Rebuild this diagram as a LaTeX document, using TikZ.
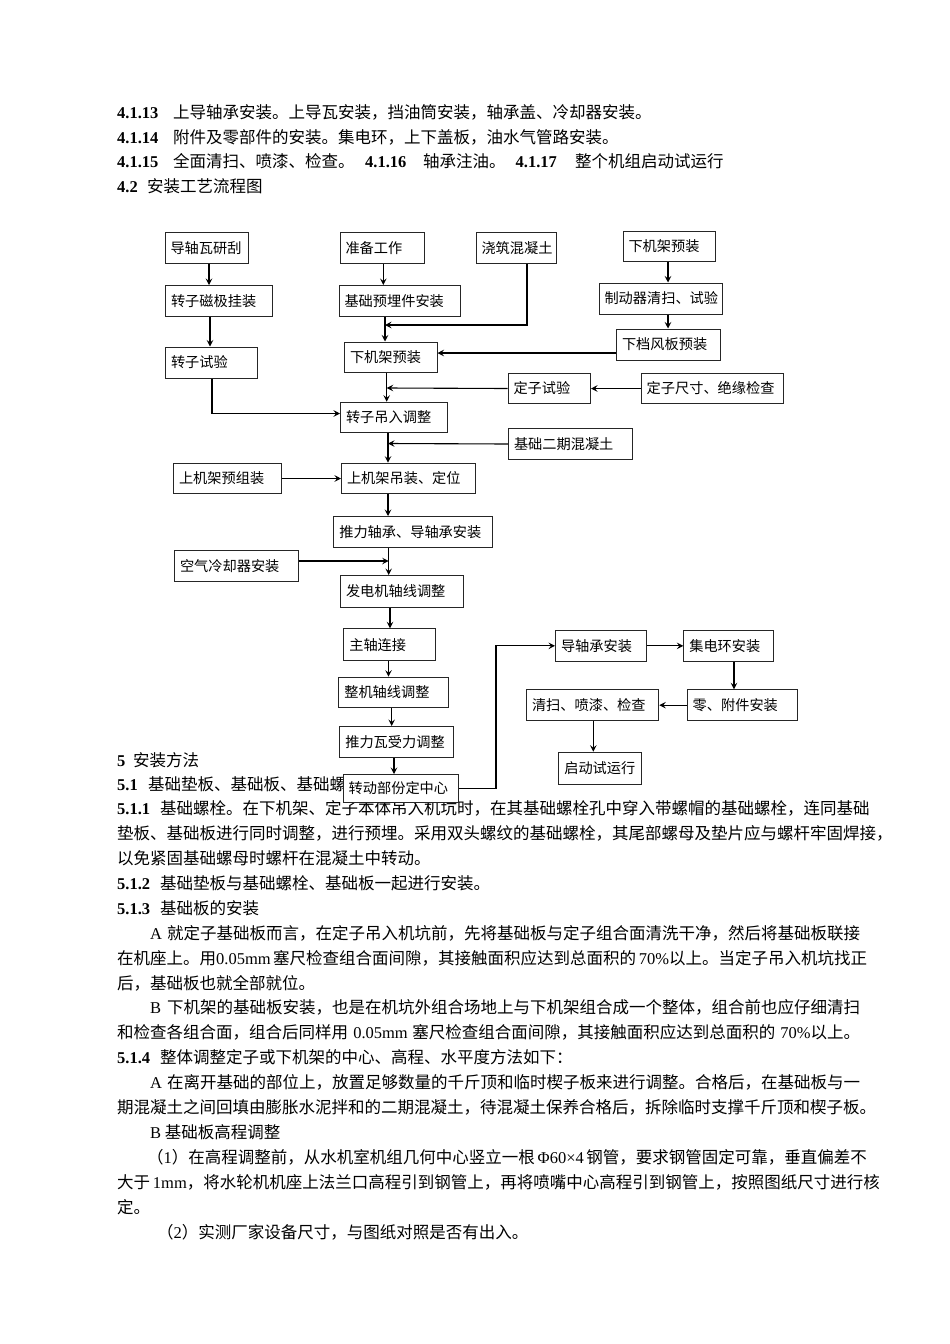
\documentclass[tikz,border=0pt]{standalone}
\usepackage{fontspec}
\setmainfont{Noto Sans CJK SC}
\newfontfamily\lat{Liberation Serif}
\usetikzlibrary{arrows.meta}
\XeTeXlinebreaklocale "zh"
\XeTeXlinebreakskip=0pt plus 2pt minus 1pt
\newcommand\secno[2]{\makebox[#2pt][l]{\lat\bfseries #1}}
\newcommand\mkbox[6]{\node[boxst,minimum width=#4pt,minimum height=#5pt,anchor=north west] (#1) at (#2,#3) {\makebox[\dimexpr#4pt-11pt\relax][l]{#6}};}
\tikzset{
  boxst/.style={draw=black!85, line width=1pt, fill=white, inner xsep=5.5pt, inner ysep=0pt,
    font=\fontsize{14.2}{16}\selectfont, text=black},
  arr/.style={line width=1.1pt, draw=black, -{Stealth[length=6.5pt,width=6.5pt,inset=2.5pt]}},
  txt/.style={anchor=base west, inner sep=0pt, font=\fontsize{16.5}{20}\selectfont, text=black}
}
\begin{document}
\begin{tikzpicture}[x=1pt,y=-1pt]
\useasboundingbox (0,0) rectangle (950,1344);
\fill[white] (0,0) rectangle (950,1344);

% ---------------- body text ----------------
\node[txt] (t1) at (117,118.3) {\secno{4.1.13}{56}上导轴承安装。上导瓦安装，挡油筒安装，轴承盖、冷却器安装。};
\node[txt] (t2) at (117,143.3) {\secno{4.1.14}{56}附件及零部件的安装。集电环，上下盖板，油水气管路安装。};
\node[txt] (t3) at (117,167.3) {\secno{4.1.15}{56}全面清扫、喷漆、检查。\hspace{10.5pt}\secno{4.1.16}{58}轴承注油。\hspace{10pt}\secno{4.1.17}{59.5}整个机组启动试运行};
\node[txt] (t4) at (117,192.3) {\secno{4.2}{30}安装工艺流程图};

\node[txt] (t5) at (117,766.3) {\secno{5}{16}安装方法};
\node[txt] (t6) at (117,790.3) {\secno{5.1}{31}基础垫板、基础板、基础螺};
\node[txt] (t7) at (117,814.3) {\makebox[753pt][s]{\secno{5.1.1}{43}基础螺栓。在下机架、定子本体吊入机坑时，在其基础螺栓孔中穿入带螺帽的基础螺栓，连同基础}};
\node[txt] (t8) at (117,839.3) {\makebox[755pt][s]{垫板、基础板进行同时调整，进行预埋。采用双头螺纹的基础螺栓，其尾部螺母及垫片应与螺杆牢固焊接，}};
\node[txt] (t9) at (117,864.3) {以免紧固基础螺母时螺杆在混凝土中转动。};
\node[txt] (t10) at (117,889.3) {\secno{5.1.2}{43}基础垫板与基础螺栓、基础板一起进行安装。};
\node[txt] (t11) at (117,914.3) {\secno{5.1.3}{43}基础板的安装};
\node[txt] (t12) at (150,939.3) {\makebox[710pt][s]{{\lat A} 就定子基础板而言，在定子吊入机坑前，先将基础板与定子组合面清洗干净，然后将基础板联接}};
\node[txt] (t13) at (117,964.3) {\makebox[743pt][s]{在机座上。用{\lat 0.05mm} 塞尺检查组合面间隙，其接触面积应达到总面积的{\lat\ 70\%}以上。当定子吊入机坑找正}};
\node[txt] (t14) at (117,989.3) {后，基础板也就全部就位。};
\node[txt] (t15) at (150,1013.3) {\makebox[710pt][s]{{\lat B} 下机架的基础板安装，也是在机坑外组合场地上与下机架组合成一个整体，组合前也应仔细清扫}};
\node[txt] (t16) at (117,1038.3) {\makebox[743pt][s]{和检查各组合面，组合后同样用{\lat\ 0.05mm} 塞尺检查组合面间隙，其接触面积应达到总面积的{\lat\ 70\%}以上。}};
\node[txt] (t17) at (117,1063.3) {\secno{5.1.4}{43}整体调整定子或下机架的中心、高程、水平度方法如下：};
\node[txt] (t18) at (150,1088.3) {\makebox[710pt][s]{{\lat A} 在离开基础的部位上，放置足够数量的千斤顶和临时楔子板来进行调整。合格后，在基础板与一}};
\node[txt] (t19) at (117,1113.3) {\makebox[751pt][s]{期混凝土之间回填由膨胀水泥拌和的二期混凝土，待混凝土保养合格后，拆除临时支撑千斤顶和楔子板。}};
\node[txt] (t20) at (150,1138.3) {{\lat B} 基础板高程调整};
\node[txt] (t21) at (147,1163.3) {\makebox[713pt][s]{（{\lat 1}）在高程调整前，从水机室机组几何中心竖立一根{\lat\ Φ60×4} 钢管，要求钢管固定可靠，垂直偏差不}};
\node[txt] (t22) at (117,1188.3) {\makebox[743pt][s]{大于{\lat\ 1mm}，将水轮机机座上法兰口高程引到钢管上，再将喷嘴中心高程引到钢管上，按照图纸尺寸进行核}};
\node[txt] (t23) at (117,1213.3) {定。};
\node[txt] (t24) at (157,1238.3) {（{\lat 2}）实测厂家设备尺寸，与图纸对照是否有出入。};

% ---------------- flow chart boxes ----------------
\mkbox{b1}{164.5}{232}{83}{31}{导轴瓦研刮}
\mkbox{b2}{165}{285}{107}{31}{转子磁极挂装}
\mkbox{b3}{165}{346.5}{92}{31}{转子试验}
\mkbox{c1}{339.5}{232}{84}{31}{准备工作}
\mkbox{c2}{475.5}{232}{80}{31}{浇筑混凝土}
\mkbox{c3}{338.5}{285}{121}{30.5}{基础预埋件安装}
\mkbox{r1}{622.5}{230.5}{92}{30.5}{下机架预装}
\mkbox{r2}{598.5}{282.5}{123}{31}{制动器清扫、试验}
\mkbox{r3}{616}{328.5}{104}{31}{下档风板预装}
\mkbox{c4}{344}{341.5}{92.5}{30.5}{下机架预装}
\mkbox{s1}{507.5}{372.7}{82.5}{30.6}{定子试验}
\mkbox{s2}{640.7}{372.7}{142.6}{30.6}{定子尺寸、绝缘检查}
\mkbox{c5}{340}{401.7}{106.7}{30.6}{转子吊入调整}
\mkbox{s3}{508}{428}{124}{31}{基础二期混凝土}
\mkbox{l1}{173}{462.7}{107.7}{30.6}{上机架预组装}
\mkbox{c6}{341}{462.7}{134}{30.6}{上机架吊装、定位}
\mkbox{c7}{333.3}{516}{158.4}{31.3}{推力轴承、导轴承安装}
\mkbox{l2}{174}{550}{123.7}{31}{空气冷却器安装}
\mkbox{c8}{340}{575}{123}{31.7}{发电机轴线调整}
\mkbox{c9}{343.3}{628.3}{91.7}{31.7}{主轴连接}
\mkbox{c10}{338.3}{676.7}{110}{30.6}{整机轴线调整}
\mkbox{c11}{339.3}{726}{113.4}{31.3}{推力瓦受力调整}
\mkbox{c12}{342.7}{774}{115.6}{27.7}{转动部份定中心}
\mkbox{d1}{555}{630}{90.7}{30.7}{导轴承安装}
\mkbox{d2}{683.3}{630}{90}{30.7}{集电环安装}
\mkbox{d3}{686.7}{689.3}{110}{30.7}{零、附件安装}
\mkbox{d4}{526}{689.3}{132.3}{30.7}{清扫、喷漆、检查}
\mkbox{d5}{558.3}{751.7}{82.4}{32.3}{启动试运行}

% ---------------- connectors ----------------
\coordinate (j1) at (385,325);
\coordinate (j2) at (386.7,388);
\coordinate (j3) at (388,443.5);
\coordinate (j4) at (388.7,561);

\draw[arr] (b1.south -| 209,0) -- (b2.north -| 209,0);
\draw[arr] (b2.south -| 210,0) -- (b3.north -| 210,0);
\draw[arr] (b3.south -| 212,0) |- ([yshift=4pt]c5.west);

\draw[arr] (c1.south -| 383.3,0) -- (c3.north -| 383.3,0);
\draw[arr] (c3.south -| j1) -- (c4.north -| j1);
\draw[arr] (c2.south -| 527,0) |- (j1);

\draw[arr] (r1.south -| 668,0) -- (r2.north -| 668,0);
\draw[arr] (r2.south -| 668,0) -- (r3.north -| 668,0);
\draw[arr] (r3.west |- 0,353) -- (c4.east |- 0,353);

\draw[arr] (c4.south -| j2) -- (c5.north -| j2);
\draw[arr] (s1.west) -- (j2);
\draw[arr] (s2.west) -- (s1.east);

\draw[arr] (c5.south -| j3) -- (c6.north -| j3);
\draw[arr] (s3.west) -- (j3);
\draw[arr] (l1.east) -- (c6.west);
\draw[arr] (c6.south -| j3) -- (c7.north -| j3);

\draw[arr] (c7.south -| j4) -- (c8.north -| j4);
\draw[arr] (l2.east |- j4) -- (j4);

\draw[arr] (c8.south -| 390,0) -- (c9.north -| 390,0);
\draw[arr] (c9.south -| 388.5,0) -- (c10.north -| 388.5,0);
\draw[arr] (c10.south -| 391.7,0) -- (c11.north -| 391.7,0);
\draw[arr] (c11.south -| 394,0) -- (c12.north -| 394,0);

\draw[arr] (c12.east) -- ++(36.7,0) |- (d1.west);
\draw[arr] (d1.east) -- (d2.west);
\draw[arr] (d2.south -| 734,0) -- (d3.north -| 734,0);
\draw[arr] (d3.west) -- (d4.east);
\draw[arr] (d4.south -| 593.3,0) -- (d5.north -| 593.3,0);
\end{tikzpicture}
\end{document}
